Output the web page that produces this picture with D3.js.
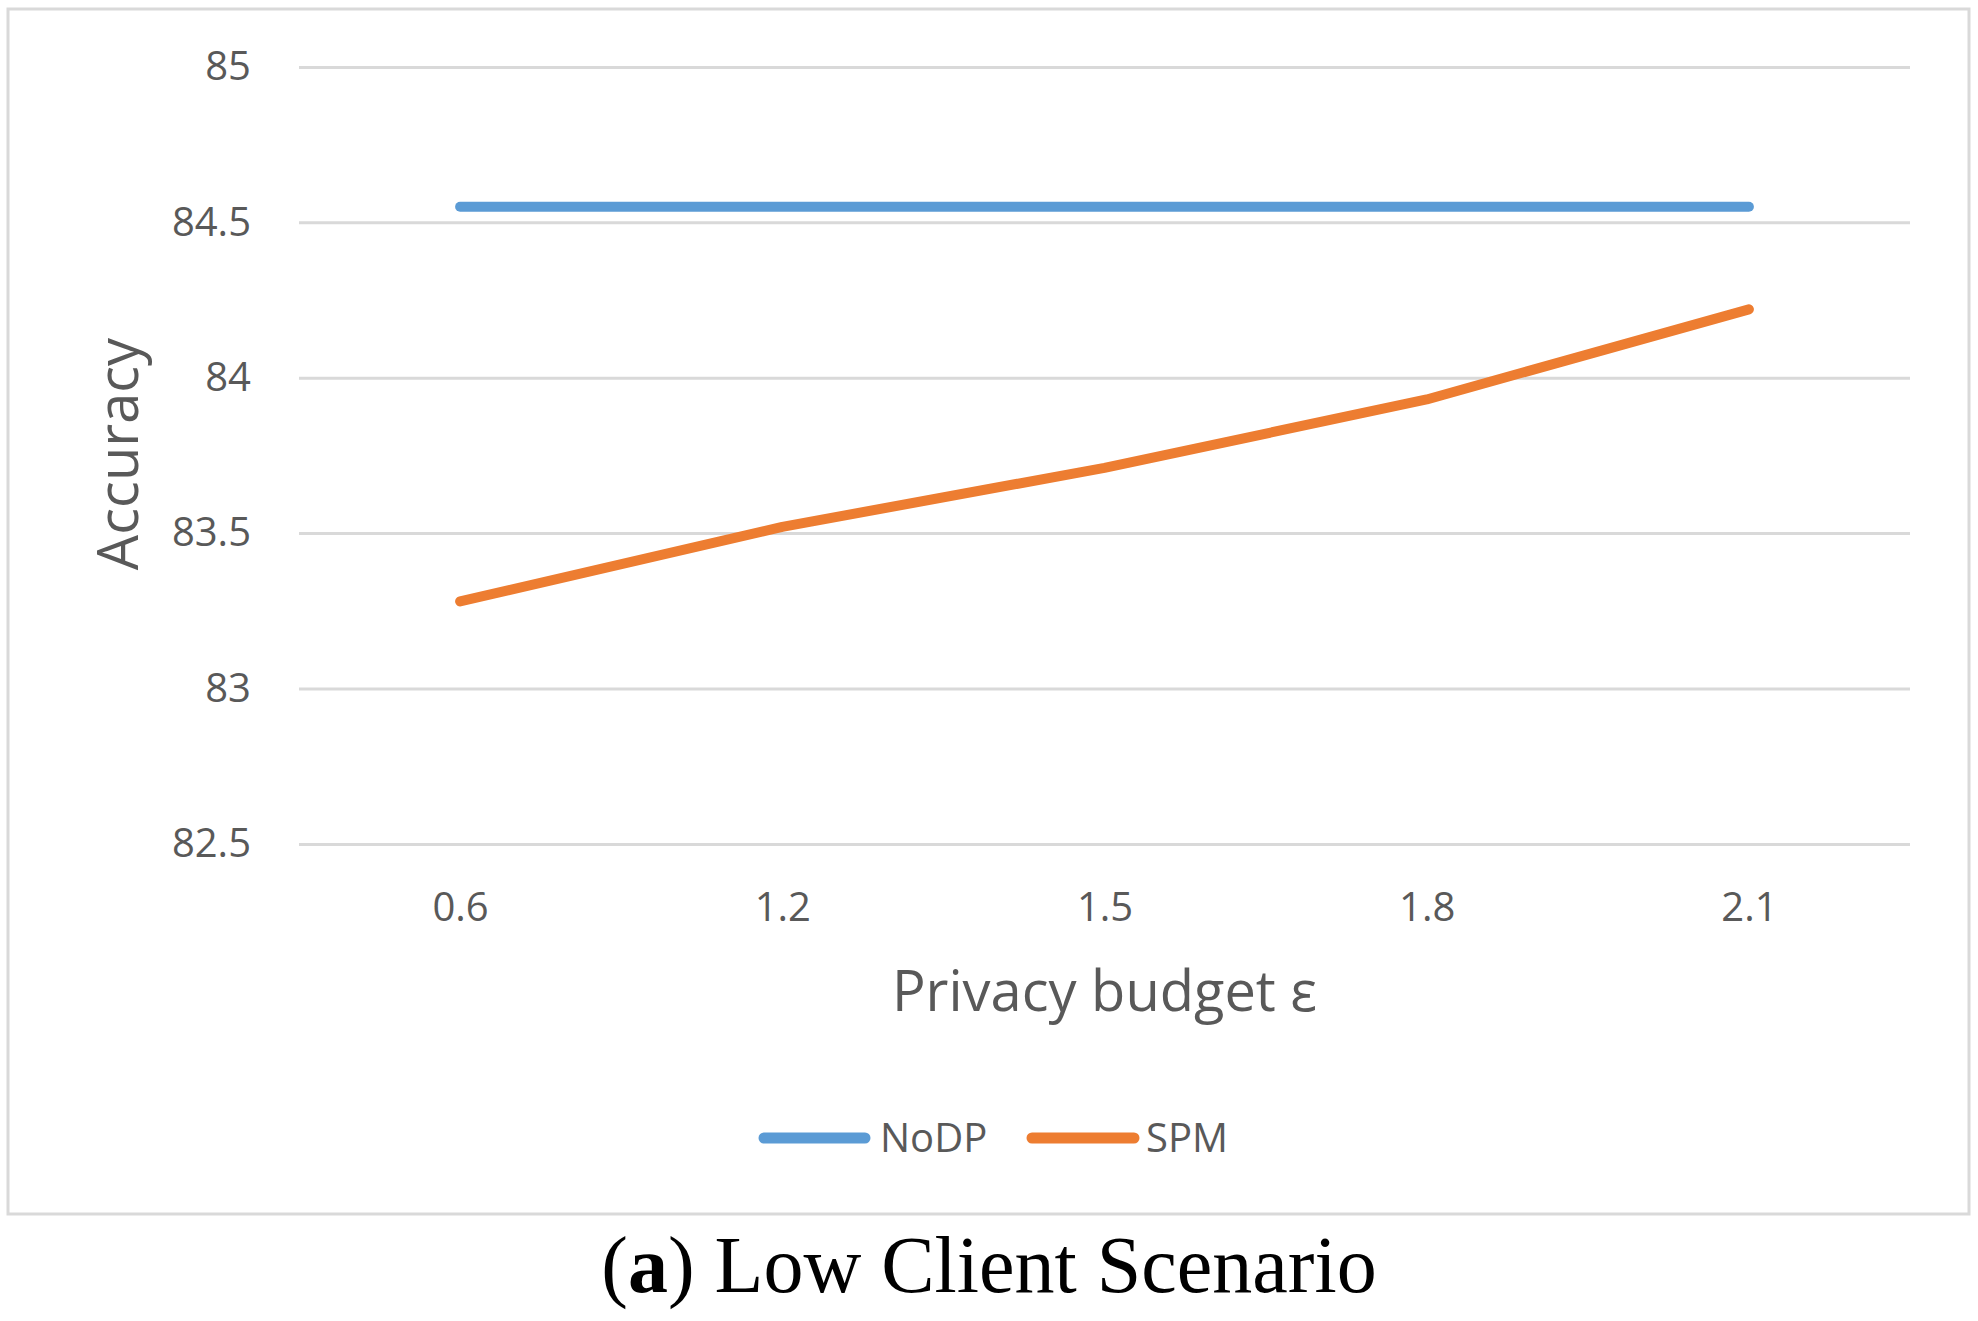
<!DOCTYPE html>
<html>
<head>
<meta charset="utf-8">
<script src="https://cdn.jsdelivr.net/npm/d3@7"></script>
<style>
  html, body { margin: 0; padding: 0; background: #ffffff; }
  svg { display: block; }
</style>
</head>
<body>
<svg id="chart" width="1978" height="1321"></svg>
<script>
const categories = ["0.6", "1.2", "1.5", "1.8", "2.1"];
const seriesNames = ["NoDP", "SPM"];
const noDP = [84.55, 84.55, 84.55, 84.55, 84.55];
const spm = [83.28, 83.52, 83.71, 83.93, 84.22];
const yTicks = [82.5, 83, 83.5, 84, 84.5, 85];
const colors = ["#5b9bd5", "#ed7d31"];

const svg = d3.select("#chart");
const textColor = "#595959";
const gridColor = "#d9d9d9";
const fontFam = "'Open Sans', 'Noto Sans', sans-serif";

const plot = { left: 299, right: 1910, top: 66.9, bottom: 843.9 };

// outer frame
svg.append("rect")
  .attr("x", 8).attr("y", 9)
  .attr("width", 1961).attr("height", 1205)
  .attr("fill", "#ffffff")
  .attr("stroke", gridColor).attr("stroke-width", 3);

const x = d3.scalePoint().domain(categories).range([plot.left, plot.right]).padding(0.5);
const y = d3.scaleLinear().domain([82.5, 85]).range([plot.bottom, plot.top]);

// y axis with gridlines
const yAxis = d3.axisLeft(y)
  .tickValues(yTicks)
  .tickFormat(d => String(d))
  .tickSize(-(plot.right - plot.left))
  .tickPadding(48);

const gy = svg.append("g").attr("transform", `translate(${plot.left},0)`).call(yAxis);
gy.select(".domain").remove();
gy.selectAll(".tick line").attr("stroke", gridColor).attr("stroke-width", 3);
gy.selectAll(".tick text")
  .attr("fill", textColor)
  .style("font-family", fontFam)
  .style("font-size", "40px");

// x axis
const xAxis = d3.axisBottom(x).tickSize(0).tickPadding(49);
const gx = svg.append("g").attr("transform", `translate(0,${plot.bottom})`).call(xAxis);
gx.select(".domain").remove();
gx.selectAll(".tick text")
  .attr("fill", textColor)
  .style("font-family", fontFam)
  .style("font-size", "40px");

// axis titles
svg.append("text")
  .attr("transform", `translate(138,454) rotate(-90)`)
  .attr("text-anchor", "middle")
  .attr("fill", textColor)
  .style("font-family", fontFam)
  .style("font-size", "56px")
  .text("Accuracy");

svg.append("text")
  .attr("x", (plot.left + plot.right) / 2)
  .attr("y", 1011)
  .attr("text-anchor", "middle")
  .attr("fill", textColor)
  .style("font-family", fontFam)
  .style("font-size", "56px")
  .text("Privacy budget ε");

// lines
const line = d3.line().x((d, i) => x(categories[i])).y(d => y(d));
[noDP, spm].forEach((vals, k) => {
  svg.append("path")
    .datum(vals)
    .attr("d", line)
    .attr("fill", "none")
    .attr("stroke", colors[k])
    .attr("stroke-width", 10)
    .attr("stroke-linecap", "round")
    .attr("stroke-linejoin", "round");
});

// legend
const legendItems = [
  { name: seriesNames[0], color: colors[0], x1: 764, x2: 865, tx: 880 },
  { name: seriesNames[1], color: colors[1], x1: 1032, x2: 1134, tx: 1146 }
];
const legY = 1138;
legendItems.forEach(it => {
  svg.append("line")
    .attr("x1", it.x1).attr("x2", it.x2)
    .attr("y1", legY).attr("y2", legY)
    .attr("stroke", it.color)
    .attr("stroke-width", 11)
    .attr("stroke-linecap", "round");
  svg.append("text")
    .attr("x", it.tx).attr("y", legY + 14)
    .attr("fill", textColor)
    .style("font-family", fontFam)
    .style("font-size", "40px")
    .text(it.name);
});

// caption
const cap = svg.append("text")
  .attr("x", 989).attr("y", 1292)
  .attr("text-anchor", "middle")
  .attr("fill", "#000000")
  .style("font-family", "'Liberation Serif', 'DejaVu Serif', serif")
  .style("font-size", "80px");
cap.append("tspan").text("(");
cap.append("tspan").style("font-weight", "bold").text("a");
cap.append("tspan").text(") Low Client Scenario");
</script>
</body>
</html>
